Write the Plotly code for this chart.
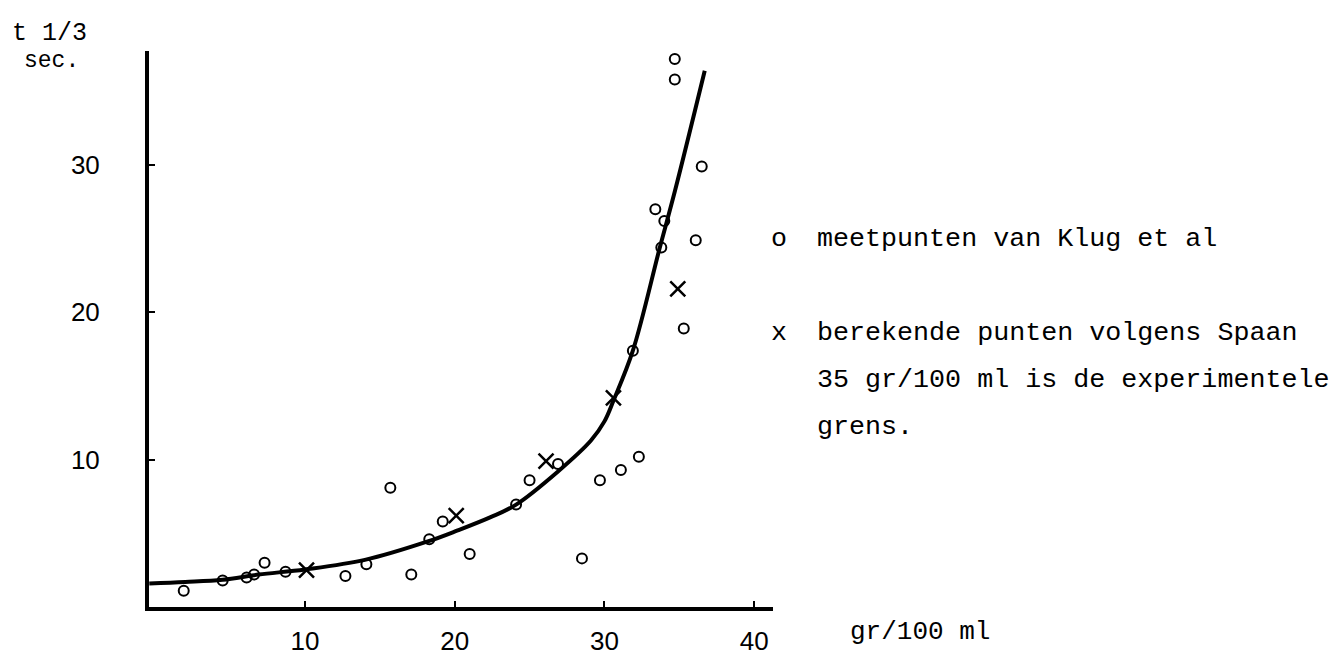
import plotly.graph_objects as go

# ---------------- data ----------------
klug_x = [1.9, 4.5, 6.1, 6.6, 7.3, 8.7, 12.7, 14.1, 15.7, 17.1, 18.3, 19.2, 21.0,
          24.1, 25.0, 26.9, 28.5, 29.7, 31.1, 32.3, 31.9, 33.4, 34.0, 33.8, 36.1,
          35.3, 34.7, 34.7, 36.5]
klug_y = [1.1, 1.8, 2.0, 2.2, 3.0, 2.4, 2.1, 2.9, 8.1, 2.2, 4.6, 5.8, 3.6,
          6.95, 8.6, 9.7, 3.3, 8.6, 9.3, 10.2, 17.4, 27.0, 26.2, 24.4, 24.9,
          18.9, 37.2, 35.8, 29.9]

spaan_x = [10.1, 20.1, 26.1, 30.6, 34.9]
spaan_y = [2.5, 6.2, 9.9, 14.2, 21.6]

curve_x = [-0.4, 2, 4.5, 6.9, 10, 14, 18.2, 20.2, 22.4, 24.1, 26.9, 29.1, 30.0,
           30.6, 31.9, 33.7, 34.7, 36.7]
curve_y = [1.6, 1.7, 1.85, 2.2, 2.55, 3.2, 4.45, 5.2, 6.1, 6.95, 9.2, 11.3, 12.6,
           14.0, 17.4, 24.4, 28.2, 36.4]

x_ticks = [10, 20, 30, 40]
y_ticks = [10, 20, 30]

y_title_1 = "t 1/3"
y_title_2 = "sec."
x_title = "gr/100 ml"
legend_lines = [
    ("o", "meetpunten van Klug et al"),
    ("x", "berekende punten volgens Spaan"),
    ("", "35 gr/100 ml is de experimentele"),
    ("", "grens."),
]

# ---------------- layout geometry ----------------
W, H = 1342, 660
L, R, T, B = 141, 765, 43, 614  # plot area in pixels

def px(x):
    return (x - L) / (R - L)

def py(y):
    return (B - y) / (B - T)

MONO = "Liberation Mono, DejaVu Sans Mono, monospace"
SANS = "Liberation Sans, Arial, sans-serif"

fig = go.Figure()

fig.add_trace(go.Scatter(
    x=curve_x, y=curve_y, mode="lines", name="curve",
    line=dict(color="black", width=4, shape="spline", smoothing=1.0),
    hoverinfo="skip",
))
fig.add_trace(go.Scatter(
    x=klug_x, y=klug_y, mode="markers", name="meetpunten van Klug et al",
    marker=dict(symbol="circle-open", size=10, color="black",
                line=dict(color="black", width=2)),
))
fig.add_trace(go.Scatter(
    x=spaan_x, y=spaan_y, mode="markers", name="berekende punten volgens Spaan",
    marker=dict(symbol="x-thin-open", size=15, color="black",
                line=dict(color="black", width=2.5)),
))

annotations = []

def text_at(x_px, baseline_px, text, size, family=MONO):
    annotations.append(dict(
        x=px(x_px), y=py(baseline_px - 0.27 * size), xref="paper", yref="paper",
        text=text, showarrow=False, xanchor="left", yanchor="middle",
        font=dict(family=family, size=size, color="black"),
    ))

text_at(2, 32, y_title_1, 25)
text_at(14, 59, y_title_2, 23)
text_at(840, 647, x_title, 26)

baselines = [243, 340, 388, 436]
for (sym, txt), bl in zip(legend_lines, baselines):
    if sym:
        text_at(761, bl, sym, 26.7)
    text_at(807, bl, txt, 26.7)

fig.update_layout(
    width=W, height=H,
    margin=dict(l=L, r=W - R, t=T, b=H - B, pad=0),
    paper_bgcolor="white", plot_bgcolor="white",
    showlegend=False,
    annotations=annotations,
    xaxis=dict(
        range=[-0.42, 41.26], showgrid=False, zeroline=False,
        showline=True, linecolor="black", linewidth=4,
        tickmode="array", tickvals=x_ticks, ticktext=[str(v) for v in x_ticks],
        ticks="inside", ticklen=6, tickwidth=2, tickcolor="black",
        tickfont=dict(family=SANS, size=26, color="black"),
        ticklabelstandoff=8,
    ),
    yaxis=dict(
        range=[0, 37.74], showgrid=False, zeroline=False,
        showline=True, linecolor="black", linewidth=4,
        tickmode="array", tickvals=y_ticks, ticktext=[str(v) for v in y_ticks],
        ticks="inside", ticklen=6, tickwidth=2, tickcolor="black",
        tickfont=dict(family=SANS, size=26, color="black"),
        ticklabelstandoff=40,
    ),
)

fig.write_html("out.html")
